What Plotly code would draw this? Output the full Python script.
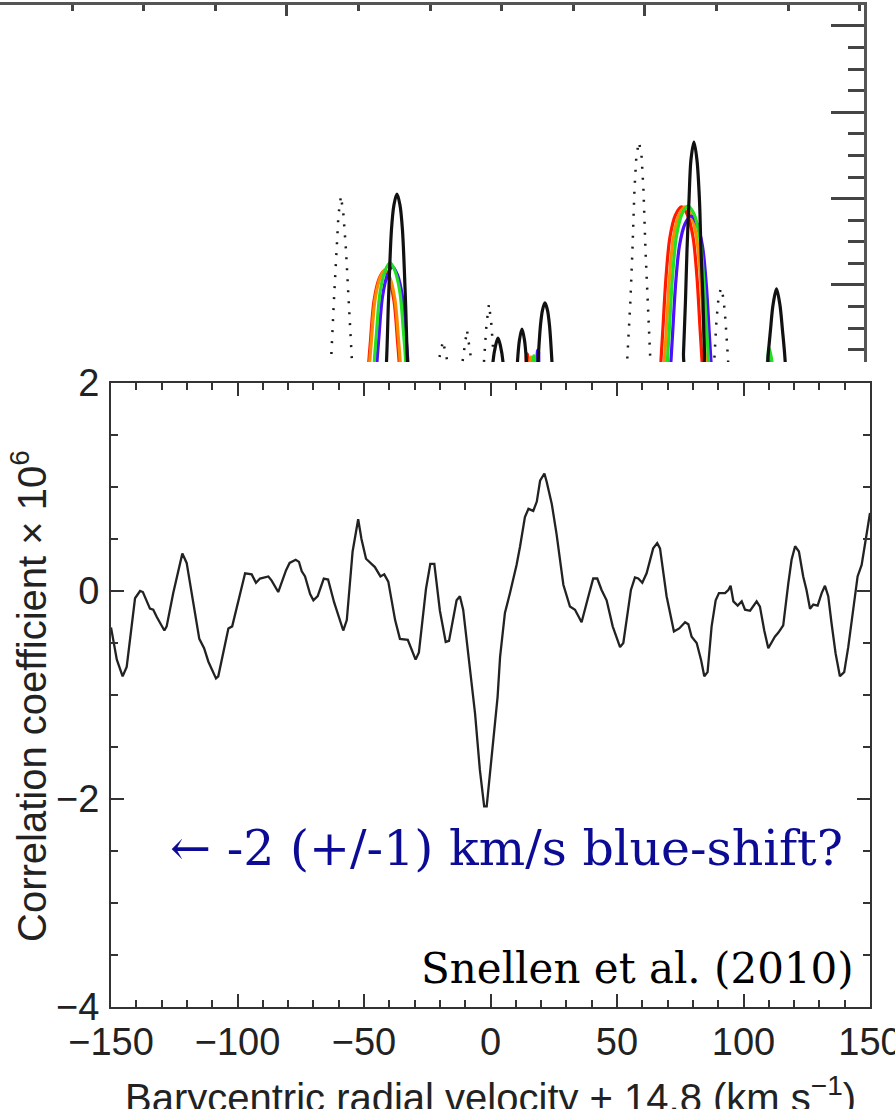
import plotly.graph_objects as go

# ---------------- main panel: cross-correlation vs. radial velocity ----------------
velocity = [
    -150.0, -147.7, -145.4, -143.8, -140.5, -138.5, -137.4, -134.6, -133.3, -131.9,
    -128.9, -128.0, -125.4, -121.8, -120.1, -118.1, -115.1, -113.2, -111.5, -108.5,
    -107.6, -103.6, -102.1, -97.0, -94.4, -92.7, -91.1, -87.8, -86.5, -83.9,
    -80.8, -79.4, -77.0, -75.7, -74.6, -73.3, -71.3, -70.0, -68.3, -65.9,
    -64.2, -61.8, -58.2, -56.8, -54.5, -52.3, -51.0, -49.2, -47.6, -45.7,
    -43.5, -42.0, -40.4, -37.7, -35.8, -32.7, -29.6, -28.3, -25.5, -23.8,
    -22.2, -20.0, -17.7, -16.4, -13.4, -12.1, -10.8, -8.8, -6.1, -4.2,
    -2.5, -1.5, 0.3, 2.8, 3.8, 5.7, 7.7, 10.3, 11.7, 13.6,
    15.0, 16.9, 18.3, 19.6, 21.3, 22.2, 24.2, 26.1, 28.8, 31.4,
    33.4, 36.0, 38.7, 40.6, 42.2, 43.9, 45.9, 48.3, 51.2, 52.5,
    55.5, 57.1, 58.4, 60.0, 61.7, 64.3, 65.9, 67.0, 69.6, 72.5,
    74.6, 76.9, 78.2, 79.5, 81.5, 83.2, 84.5, 85.8, 87.4, 89.0,
    90.3, 92.7, 94.0, 94.9, 96.0, 97.7, 99.3, 100.6, 102.6, 105.2,
    106.5, 108.2, 109.8, 112.4, 113.8, 115.7, 117.7, 119.0, 120.4, 121.9,
    123.6, 124.9, 126.3, 127.6, 129.3, 130.9, 132.2, 133.5, 134.8, 136.4,
    138.1, 139.8, 141.4, 143.4, 145.1, 146.7, 148.3, 150.0,
]
correlation = [
    -0.35, -0.66, -0.82, -0.73, -0.07, 0.00, -0.01, -0.17, -0.18, -0.25,
    -0.38, -0.34, -0.02, 0.36, 0.27, -0.02, -0.46, -0.55, -0.68, -0.84,
    -0.82, -0.36, -0.34, 0.17, 0.16, 0.08, 0.12, 0.14, 0.10, -0.01,
    0.20, 0.27, 0.30, 0.28, 0.19, 0.14, -0.03, -0.09, -0.05, 0.12,
    0.11, -0.11, -0.38, -0.28, 0.38, 0.69, 0.50, 0.31, 0.27, 0.23,
    0.14, 0.16, 0.09, -0.28, -0.46, -0.47, -0.66, -0.59, 0.02, 0.26,
    0.26, -0.19, -0.49, -0.48, -0.09, -0.05, -0.18, -0.60, -1.18, -1.72,
    -2.07, -2.07, -1.60, -1.02, -0.63, -0.21, -0.02, 0.25, 0.43, 0.71,
    0.79, 0.77, 0.86, 1.06, 1.13, 1.05, 0.84, 0.55, 0.06, -0.15,
    -0.18, -0.30, -0.05, 0.12, 0.12, 0.01, -0.09, -0.34, -0.54, -0.50,
    0.01, 0.13, 0.12, 0.08, 0.17, 0.41, 0.46, 0.41, -0.05, -0.39,
    -0.36, -0.30, -0.32, -0.44, -0.50, -0.66, -0.82, -0.78, -0.34, -0.09,
    -0.02, -0.02, 0.01, 0.05, -0.10, -0.14, -0.10, -0.18, -0.19, -0.10,
    -0.15, -0.38, -0.55, -0.44, -0.40, -0.33, 0.07, 0.30, 0.43, 0.38,
    0.14, 0.01, -0.17, -0.13, -0.14, -0.02, 0.05, -0.05, -0.31, -0.60,
    -0.82, -0.78, -0.54, -0.18, 0.14, 0.25, 0.49, 0.75,
]

# ---------------- background panel: line profiles (only the upper part is shown) ----------------
profile_black_x = [
    11.341, 11.390, 11.418, 11.459, 11.494, 11.536, 11.578, 11.613, 11.655, 11.683, 11.732,
    12.849, 12.877, 12.912, 12.947, 12.982, 13.017, 13.045,
    13.184, 13.219, 13.247, 13.282, 13.317, 13.345, 13.380,
    13.464, 13.506, 13.541, 13.569, 13.603, 13.638, 13.666, 13.701, 13.743,
    15.503, 15.538, 15.566, 15.587, 15.615, 15.642, 15.684, 15.726, 15.761, 15.782, 15.810, 15.831, 15.866,
    16.676, 16.718, 16.753, 16.788, 16.837, 16.885, 16.920, 16.955, 16.997,
]
profile_black_y = [
    -0.564, 0.108, 0.826, 1.637, 1.927, 2.054, 1.927, 1.637, 0.826, 0.108, -0.564,
    -0.564, 0.108, 0.293, 0.386, 0.293, 0.108, -0.564,
    -0.564, 0.108, 0.363, 0.490, 0.363, 0.108, -0.564,
    -0.564, 0.108, 0.537, 0.710, 0.792, 0.710, 0.537, 0.108, -0.564,
    -0.564, 0.212, 0.826, 1.405, 1.985, 2.448, 2.656, 2.448, 1.985, 1.405, 0.826, 0.212, -0.564,
    -0.564, 0.154, 0.479, 0.768, 0.954, 0.768, 0.479, 0.154, -0.564,
]

profile_dotted_x = [
    10.587, 10.615, 10.656, 10.691, 10.719, 10.754, 10.789, 10.824, 10.866, 10.908, 10.936,
    12.081, 12.116, 12.179, 12.242, 12.277,
    12.416, 12.451, 12.514, 12.577, 12.612,
    12.709, 12.751, 12.786, 12.821, 12.856, 12.891, 12.933,
    14.707, 14.756, 14.797, 14.825, 14.853, 14.881, 14.916, 14.951, 14.979, 15.007, 15.035, 15.070, 15.112,
    15.922, 15.964, 15.999, 16.027, 16.061, 16.096, 16.124, 16.159, 16.201,
]
profile_dotted_y = [
    -0.564, 0.108, 0.826, 1.405, 1.811, 2.031, 1.811, 1.405, 0.826, 0.108, -0.564,
    -0.564, 0.108, 0.351, 0.108, -0.564,
    -0.564, 0.108, 0.479, 0.108, -0.564,
    -0.564, 0.108, 0.537, 0.780, 0.537, 0.108, -0.564,
    -0.564, 0.154, 0.826, 1.405, 2.100, 2.506, 2.656, 2.506, 2.100, 1.405, 0.826, 0.154, -0.564,
    -0.564, 0.154, 0.595, 0.849, 0.965, 0.849, 0.595, 0.154, -0.564,
]

profile_red_x = [
    11.097, 11.139, 11.166, 11.215, 11.285, 11.355, 11.425, 11.495, 11.544, 11.571, 11.613,
    13.240, 13.352, 13.464,
    15.182, 15.224, 15.252, 15.294, 15.349, 15.426, 15.510, 15.594, 15.671, 15.726, 15.768, 15.796, 15.838,
]
profile_red_y = [
    -0.633, 0.062, 0.351, 0.814, 1.069, 1.162, 1.069, 0.814, 0.351, 0.062, -0.633,
    -0.332, 0.201, -0.332,
    -0.563, 0.132, 0.514, 1.093, 1.556, 1.811, 1.904, 1.811, 1.556, 1.093, 0.514, 0.132, -0.563,
]

profile_orange_x = [
    11.111, 11.153, 11.180, 11.229, 11.299, 11.369, 11.439, 11.509, 11.558, 11.585, 11.627,
    13.296, 13.408, 13.520,
    15.231, 15.273, 15.301, 15.343, 15.398, 15.475, 15.559, 15.643, 15.720, 15.775, 15.817, 15.845, 15.887,
    16.634, 16.718, 16.802,
]
profile_orange_y = [
    -0.621, 0.074, 0.363, 0.826, 1.081, 1.174, 1.081, 0.826, 0.363, 0.074, -0.621,
    -0.332, 0.166, -0.332,
    -0.563, 0.132, 0.514, 1.093, 1.556, 1.811, 1.904, 1.811, 1.556, 1.093, 0.514, 0.132, -0.563,
    -0.332, 0.154, -0.332,
]

profile_blue_x = [
    11.215, 11.257, 11.284, 11.333, 11.403, 11.473, 11.543, 11.613, 11.662, 11.689, 11.731,
    13.394, 13.506, 13.617,
    15.314, 15.356, 15.384, 15.426, 15.481, 15.558, 15.642, 15.726, 15.803, 15.858, 15.900, 15.928, 15.970,
    16.634, 16.732, 16.830,
]
profile_blue_y = [
    -0.586, 0.109, 0.398, 0.861, 1.116, 1.209, 1.116, 0.861, 0.398, 0.109, -0.586,
    -0.332, 0.247, -0.332,
    -0.668, 0.027, 0.409, 0.988, 1.451, 1.706, 1.799, 1.706, 1.451, 0.988, 0.409, 0.027, -0.668,
    -0.332, 0.224, -0.332,
]

profile_green_x = [
    11.181, 11.223, 11.250, 11.299, 11.369, 11.439, 11.509, 11.579, 11.628, 11.655, 11.697,
    13.338, 13.450, 13.562,
    15.273, 15.315, 15.343, 15.385, 15.440, 15.517, 15.601, 15.685, 15.762, 15.817, 15.859, 15.887, 15.929,
    16.634, 16.732, 16.830,
]
profile_green_y = [
    -0.540, 0.155, 0.444, 0.907, 1.162, 1.255, 1.162, 0.907, 0.444, 0.155, -0.540,
    -0.332, 0.178, -0.332,
    -0.552, 0.143, 0.525, 1.104, 1.567, 1.822, 1.915, 1.822, 1.567, 1.104, 0.525, 0.143, -0.552,
    -0.332, 0.270, -0.332,
]

SANS = "Liberation Sans, Arial, Helvetica, sans-serif"
SERIF = "DejaVu Serif, Georgia, serif"
INK = "#222222"

fig = go.Figure()

# background panel traces (x2 / y2)
fig.add_trace(go.Scatter(x=profile_dotted_x, y=profile_dotted_y, mode="lines",
                         line=dict(color="#1a1a1a", width=2.5, dash="2px,9px"),
                         xaxis="x2", yaxis="y2", hoverinfo="skip"))
for xs, ys, col in [
    (profile_red_x, profile_red_y, "#ff1a00"),
    (profile_orange_x, profile_orange_y, "#ff8c00"),
    (profile_blue_x, profile_blue_y, "#4b10ff"),
    (profile_green_x, profile_green_y, "#22e022"),
]:
    fig.add_trace(go.Scatter(x=xs, y=ys, mode="lines",
                             line=dict(color=col, width=3.2, shape="spline", smoothing=0.9),
                             xaxis="x2", yaxis="y2", hoverinfo="skip"))
fig.add_trace(go.Scatter(x=profile_black_x, y=profile_black_y, mode="lines",
                         line=dict(color="#111111", width=3.2, shape="spline", smoothing=0.9),
                         xaxis="x2", yaxis="y2", hoverinfo="skip"))

# main panel trace
fig.add_trace(go.Scatter(x=velocity, y=correlation, mode="lines",
                         line=dict(color=INK, width=2.3),
                         xaxis="x", yaxis="y", hoverinfo="skip"))

W, H = 895, 1109

fig.update_layout(
    template="none",
    width=W, height=H,
    margin=dict(l=0, r=0, t=0, b=0, pad=0, autoexpand=False),
    paper_bgcolor="white", plot_bgcolor="white",
    showlegend=False,
    font=dict(family=SANS, color=INK),
    xaxis=dict(
        domain=[111 / W, 870 / W], anchor="y", automargin=False,
        range=[-150, 150], dtick=50, tick0=0,
        showgrid=False, zeroline=False,
        showline=True, linecolor="#333333", linewidth=2, mirror="ticks",
        ticks="inside", ticklen=13, tickwidth=2, tickcolor="#333333",
        minor=dict(ticks="inside", dtick=10, ticklen=7, tickwidth=2, tickcolor="#333333"),
        tickfont=dict(family=SANS, size=38, color=INK),
        ticklabeloverflow="allow", ticklabelstandoff=0,
    ),
    yaxis=dict(
        domain=[(H - 1007) / H, (H - 383) / H], anchor="x", automargin=False,
        range=[-4, 2], dtick=2, tick0=0,
        showgrid=False, zeroline=False,
        showline=True, linecolor="#333333", linewidth=2, mirror="ticks",
        ticks="inside", ticklen=13, tickwidth=2, tickcolor="#333333",
        minor=dict(ticks="inside", dtick=0.5, ticklen=7, tickwidth=2, tickcolor="#333333"),
        tickfont=dict(family=SANS, size=38, color=INK),
        ticklabeloverflow="allow", ticklabelstandoff=2,
    ),
    xaxis2=dict(
        domain=[0, 864 / W], anchor="y2", side="top", automargin=False,
        range=[5.992, 18.059], dtick=5, tick0=0,
        showticklabels=False, showgrid=False, zeroline=False,
        showline=True, linecolor="#555555", linewidth=3,
        ticks="inside", ticklen=11, tickwidth=2.5, tickcolor="#444444",
        minor=dict(ticks="inside", dtick=1, ticklen=6, tickwidth=2.5, tickcolor="#444444"),
    ),
    yaxis2=dict(
        domain=[(H - 362) / H, (H - 5) / H], anchor="x2", side="right", automargin=False,
        range=[0.108, 4.243], dtick=1, tick0=0,
        showticklabels=False, showgrid=False, zeroline=False,
        showline=True, linecolor="#555555", linewidth=2.5,
        ticks="inside", ticklen=33, tickwidth=2.5, tickcolor="#444444",
        minor=dict(ticks="inside", dtick=0.25, ticklen=16, tickwidth=2.5, tickcolor="#444444"),
    ),
    annotations=[
        dict(text="Correlation coefficient \u00d7 10<sup>6</sup>", textangle=-90,
             xref="paper", yref="paper", x=29 / W, y=(H - 696) / H,
             xanchor="center", yanchor="middle", showarrow=False,
             font=dict(family=SANS, size=40, color=INK)),
        dict(text="Barycentric radial velocity + 14.8 (km s<sup>\u22121</sup>)",
             xref="paper", yref="paper", x=490 / W, y=(H - 1095) / H,
             xanchor="center", yanchor="middle", showarrow=False,
             font=dict(family=SANS, size=40, color=INK)),
        dict(text="\u2190 -2 (+/-1) km/s blue-shift?",
             xref="paper", yref="paper", x=168 / W, y=(H - 848) / H,
             xanchor="left", yanchor="middle", showarrow=False,
             font=dict(family=SERIF, size=49, color="#0b0b96")),
        dict(text="Snellen et al. (2010)",
             xref="paper", yref="paper", x=856 / W, y=(H - 968) / H,
             xanchor="right", yanchor="middle", showarrow=False,
             font=dict(family=SERIF, size=42, color="#000000")),
    ],
)

fig.write_html("out.html")
